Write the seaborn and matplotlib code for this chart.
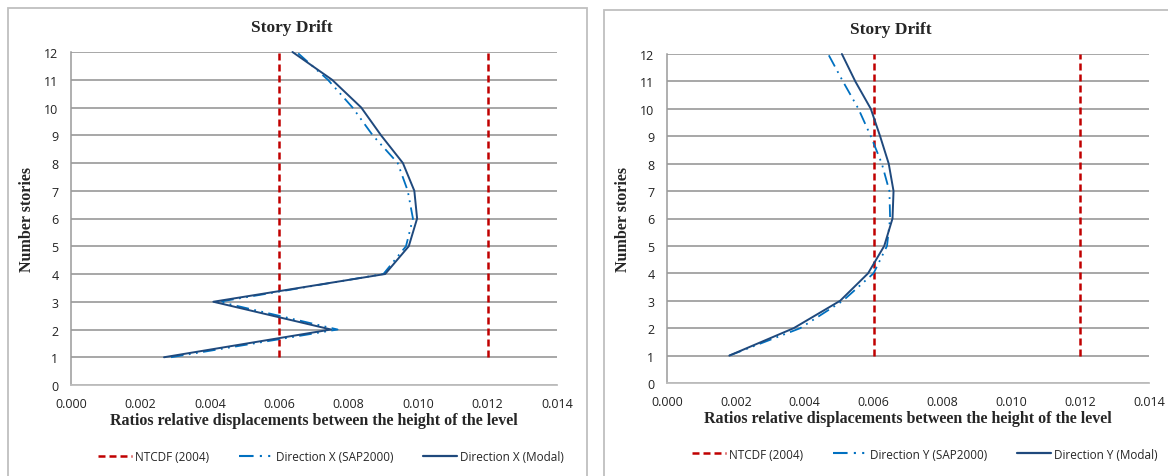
import pandas as pd
import matplotlib
matplotlib.use('Agg')
import matplotlib.pyplot as plt
from matplotlib.lines import Line2D
from matplotlib.patches import Rectangle
import seaborn as sns

STORIES = [1, 2, 3, 4, 5, 6, 7, 8, 9, 10, 11, 12]

# direction X
SAP_X = [0.00288, 0.00768, 0.00427, 0.00900, 0.00965, 0.00985,
         0.00970, 0.00941, 0.00869, 0.00811, 0.00740, 0.00650]
MODAL_X = [0.00268, 0.00749, 0.00410, 0.00905, 0.00973, 0.00997,
           0.00989, 0.00956, 0.00893, 0.00836, 0.00752, 0.00638]

# direction Y
SAP_Y = [0.00181, 0.00387, 0.00511, 0.00600, 0.00639, 0.00648,
         0.00646, 0.00624, 0.00592, 0.00556, 0.00511, 0.00468]
MODAL_Y = [0.00181, 0.00368, 0.00503, 0.00584, 0.00631, 0.00655,
           0.00658, 0.00644, 0.00619, 0.00592, 0.00547, 0.00508]

# NTCDF (2004) drift limits
LIMITS = [0.006, 0.012]
LIMIT_STORIES = [1, 12]

X_TICKS = [0.000, 0.002, 0.004, 0.006, 0.008, 0.010, 0.012, 0.014]
Y_TICKS = list(range(0, 13))

RED = '#C00000'
LIGHT_BLUE = '#0070C0'
DARK_BLUE = '#1F497D'
GRID = '#8f8f8f'

SERIF = ['Liberation Serif', 'DejaVu Serif']
SANS = ['Open Sans', 'Liberation Sans', 'DejaVu Sans']


def draw_panel(ax, sap, modal, direction):
    for lim in LIMITS:
        df_lim = pd.DataFrame({'drift': [lim, lim], 'story': LIMIT_STORIES})
        sns.lineplot(data=df_lim, x='drift', y='story', ax=ax, color=RED,
                     lw=1.8, linestyle=(0, (2.8, 1.6)), sort=False,
                     estimator=None, clip_on=False, zorder=3)
    df = pd.DataFrame({'story': STORIES, 'sap': sap, 'modal': modal})
    sns.lineplot(data=df, x='sap', y='story', ax=ax, color=LIGHT_BLUE,
                 lw=1.3, linestyle=(0, (7, 3, 1, 3, 1, 3)), sort=False,
                 estimator=None, clip_on=False, zorder=4)
    sns.lineplot(data=df, x='modal', y='story', ax=ax, color=DARK_BLUE,
                 lw=1.4, sort=False, estimator=None, clip_on=False, zorder=5)

    ax.set_xlim(0, 0.014)
    ax.set_ylim(0, 12)
    ax.set_xticks(X_TICKS)
    ax.set_xticklabels(['%.3f' % v for v in X_TICKS], family=SANS, fontsize=9)
    ax.set_yticks(Y_TICKS)
    ax.set_yticklabels([str(v) for v in Y_TICKS], family=SANS, fontsize=9)
    ax.tick_params(length=0, pad=9, colors='#222222')
    ax.tick_params(axis='x', pad=9)
    ax.grid(axis='y', color=GRID, lw=1.1)
    ax.grid(axis='x', visible=False)
    for side in ['top', 'right']:
        ax.spines[side].set_visible(False)
    ax.spines['left'].set_color('#9a9a9a')
    ax.spines['bottom'].set_color('#bdbdbd')
    ax.spines['left'].set_linewidth(1.1)
    ax.spines['bottom'].set_linewidth(1.3)

    ax.set_xlabel('Ratios relative displacements between the height of the level',
                  family=SERIF, fontweight='bold', fontsize=11.5, labelpad=1)
    ax.set_ylabel('Number stories', family=SERIF, fontweight='bold',
                  fontsize=11.5, labelpad=7)

    handles = [
        Line2D([], [], color=RED, lw=1.8, linestyle=(0, (2.8, 1.6))),
        Line2D([], [], color=LIGHT_BLUE, lw=1.5, linestyle=(0, (7, 3, 1, 3, 1, 3))),
        Line2D([], [], color=DARK_BLUE, lw=1.6),
    ]
    labels = ['NTCDF (2004)', 'Direction %s (SAP2000)' % direction,
              'Direction %s (Modal)' % direction]
    leg = ax.legend(handles, labels, loc='center',
                    bbox_to_anchor=(0.535, -0.216), ncol=3, frameon=False,
                    handlelength=2.9, handletextpad=0.25, columnspacing=2.5,
                    prop={'family': SANS, 'size': 8.5})
    return leg


def main():
    sns.set_theme(style='white')
    fig = plt.figure(figsize=(11.68, 4.77), dpi=100)

    # chart frames
    fig.patches.append(Rectangle((8 / 1168, -0.05), (587 - 8) / 1168,
                                 1 - 9 / 477 + 0.05, transform=fig.transFigure,
                                 fill=False, edgecolor='#bfbfbf', lw=1.3))
    fig.patches.append(Rectangle((604 / 1168, -0.05), 0.5,
                                 1 - 10.7 / 477 + 0.05, transform=fig.transFigure,
                                 fill=False, edgecolor='#bfbfbf', lw=1.3))

    ax1 = fig.add_axes([71 / 1168, 1 - 386 / 477, (557 - 71) / 1168, (386 - 53) / 477])
    ax2 = fig.add_axes([667 / 1168, 1 - 384 / 477, (1149 - 667) / 1168, (384 - 55) / 477])

    draw_panel(ax1, SAP_X, MODAL_X, 'X')
    draw_panel(ax2, SAP_Y, MODAL_Y, 'Y')

    fig.text(292 / 1168, 1 - 28 / 477, 'Story Drift', ha='center', va='center',
             family=SERIF, fontweight='bold', fontsize=12.5)
    fig.text(891 / 1168, 1 - 30 / 477, 'Story Drift', ha='center', va='center',
             family=SERIF, fontweight='bold', fontsize=12.5)

    fig.savefig('out.png', dpi=100)


if __name__ == '__main__':
    main()
